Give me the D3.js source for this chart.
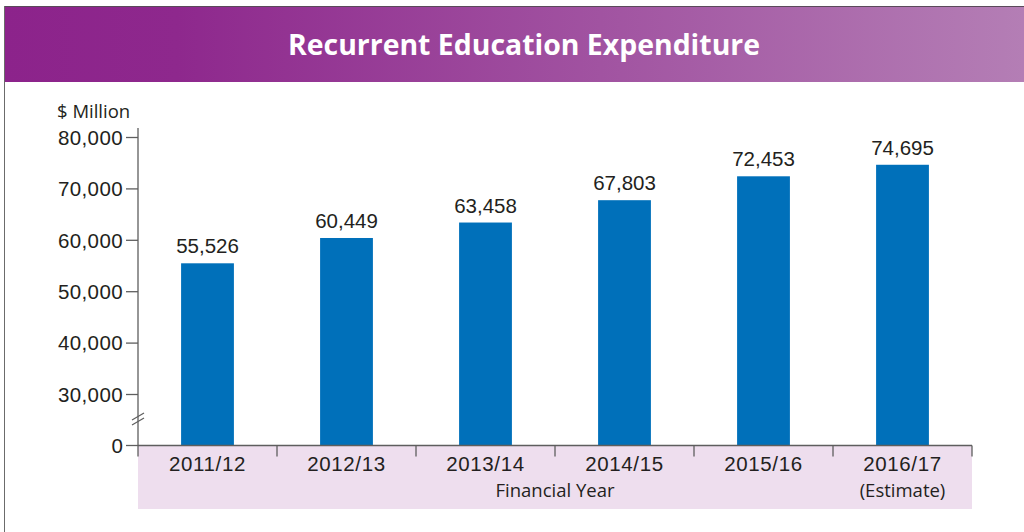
<!DOCTYPE html>
<html>
<head>
<meta charset="utf-8">
<script src="https://cdn.jsdelivr.net/npm/d3@7"></script>
<style>
  html, body { margin: 0; padding: 0; background: #fff; }
  svg { display: block; }
</style>
</head>
<body>
<svg id="chart" width="1024" height="532"></svg>
<script>
// chart data
var years = ["2011/12", "2012/13", "2013/14", "2014/15", "2015/16", "2016/17"];
var yearNotes = ["", "", "", "", "", "(Estimate)"];
var spending = [55526, 60449, 63458, 67803, 72453, 74695];
var yTicks = [30000, 40000, 50000, 60000, 70000, 80000];

var title = "Recurrent Education Expenditure",
    yTitle = "$ Million",
    xTitle = "Financial Year";

var svg = d3.select("#chart");

var left = 138, right = 972,
    base = 445.5, bandBottom = 509;

// header band with gradient
var defs = svg.append("defs");
var grad = defs.append("linearGradient")
  .attr("id", "hdr")
  .attr("x1", "0").attr("x2", "1").attr("y1", "0").attr("y2", "0");
grad.append("stop").attr("offset", "0").attr("stop-color", "#8c238b");
grad.append("stop").attr("offset", "0.17").attr("stop-color", "#8e288d");
grad.append("stop").attr("offset", "1").attr("stop-color", "#b47eb5");

svg.append("rect")
  .attr("x", 4).attr("y", 6)
  .attr("width", 1020).attr("height", 76)
  .attr("fill", "url(#hdr)");
svg.append("line")
  .attr("x1", 4).attr("x2", 1024).attr("y1", 6.5).attr("y2", 6.5)
  .attr("stroke", "#5a4a5a").attr("stroke-width", 1);
svg.append("line")
  .attr("x1", 4.5).attr("x2", 4.5).attr("y1", 6).attr("y2", 532)
  .attr("stroke", "#6b6b6b").attr("stroke-width", 1);

svg.append("text")
  .attr("x", 524).attr("y", 55)
  .attr("text-anchor", "middle")
  .attr("font-family", "'Open Sans', sans-serif")
  .attr("font-weight", "bold")
  .attr("font-size", "28px")
  .attr("textLength", 472)
  .attr("lengthAdjust", "spacingAndGlyphs")
  .attr("fill", "#fff")
  .text(title);

// scales
var x = d3.scaleBand()
  .domain(years)
  .range([left, right])
  .paddingInner(0.62)
  .paddingOuter(0.31);

var xBand = d3.scaleBand().domain(years).range([left, right]);

var y = d3.scaleLinear()
  .domain([30000, 80000])
  .range([394.5, 137.5]);

// pink band under the axis
svg.append("rect")
  .attr("x", left).attr("y", base)
  .attr("width", right - left).attr("height", bandBottom - base)
  .attr("fill", "#eedeee");

// bars
svg.selectAll("rect.bar")
  .data(spending)
  .enter()
  .append("rect")
  .attr("class", "bar")
  .attr("x", function(d, i) { return x(years[i]); })
  .attr("y", function(d) { return y(d); })
  .attr("width", x.bandwidth())
  .attr("height", function(d) { return base - y(d); })
  .attr("fill", "#0070ba");

svg.selectAll("text.val")
  .data(spending)
  .enter()
  .append("text")
  .attr("class", "val")
  .attr("x", function(d, i) { return x(years[i]) + x.bandwidth() / 2; })
  .attr("y", function(d) { return y(d) - 10; })
  .attr("text-anchor", "middle")
  .attr("font-family", "'Liberation Sans', Arial, sans-serif")
  .attr("font-size", "20.5px")
  .attr("fill", "#231f20")
  .text(d3.format(","));

// y axis
var axisColor = "#5e5e5e";
svg.append("line")
  .attr("x1", left).attr("x2", left)
  .attr("y1", 128).attr("y2", base)
  .attr("stroke", axisColor).attr("stroke-width", 1.3);

var yAxis = svg.append("g");
yAxis.selectAll("line")
  .data(yTicks)
  .enter()
  .append("line")
  .attr("x1", left - 12).attr("x2", left)
  .attr("y1", function(d) { return y(d); })
  .attr("y2", function(d) { return y(d); })
  .attr("stroke", axisColor).attr("stroke-width", 1.3);
yAxis.selectAll("text")
  .data(yTicks)
  .enter()
  .append("text")
  .attr("x", left - 15)
  .attr("y", function(d) { return y(d); })
  .attr("dy", "0.36em")
  .attr("text-anchor", "end")
  .attr("font-family", "'Liberation Sans', Arial, sans-serif")
  .attr("font-size", "20.5px")
  .attr("letter-spacing", "0.4px")
  .attr("fill", "#231f20")
  .text(d3.format(","));

// zero tick below the break
svg.append("line")
  .attr("x1", left - 12).attr("x2", left)
  .attr("y1", base).attr("y2", base)
  .attr("stroke", axisColor).attr("stroke-width", 1.3);
svg.append("text")
  .attr("x", left - 15).attr("y", base)
  .attr("dy", "0.36em")
  .attr("text-anchor", "end")
  .attr("font-family", "'Liberation Sans', Arial, sans-serif")
  .attr("font-size", "20.5px")
  .attr("fill", "#231f20")
  .text("0");

// axis break marks
[0, 5].forEach(function(off) {
  svg.append("line")
    .attr("x1", left - 6).attr("x2", left + 6)
    .attr("y1", 420 + off).attr("y2", 413 + off)
    .attr("stroke", axisColor).attr("stroke-width", 1.2);
});

svg.append("text")
  .attr("x", 57).attr("y", 118)
  .attr("font-family", "'Open Sans', sans-serif")
  .attr("font-size", "18.5px")
  .attr("fill", "#231f20")
  .text(yTitle);

// x axis
svg.append("line")
  .attr("x1", left).attr("x2", right)
  .attr("y1", base).attr("y2", base)
  .attr("stroke", axisColor).attr("stroke-width", 1.5);

var xTicks = years.map(function(d) { return xBand(d); }).concat([right]);
svg.selectAll("line.xt")
  .data(xTicks)
  .enter()
  .append("line")
  .attr("class", "xt")
  .attr("x1", function(d) { return d; })
  .attr("x2", function(d) { return d; })
  .attr("y1", base).attr("y2", base + 11)
  .attr("stroke", axisColor).attr("stroke-width", 1.3);

svg.selectAll("text.cat")
  .data(years)
  .enter()
  .append("text")
  .attr("class", "cat")
  .attr("x", function(d) { return xBand(d) + xBand.bandwidth() / 2; })
  .attr("y", 471)
  .attr("text-anchor", "middle")
  .attr("font-family", "'Liberation Sans', Arial, sans-serif")
  .attr("font-size", "20.5px")
  .attr("letter-spacing", "0.6px")
  .attr("fill", "#231f20")
  .text(function(d) { return d; });

svg.selectAll("text.note")
  .data(yearNotes)
  .enter()
  .append("text")
  .attr("class", "note")
  .attr("x", function(d, i) { return xBand(years[i]) + xBand.bandwidth() / 2; })
  .attr("y", 497)
  .attr("text-anchor", "middle")
  .attr("font-family", "'Open Sans', sans-serif")
  .attr("font-size", "18.5px")
  .attr("fill", "#231f20")
  .text(function(d) { return d; });

svg.append("text")
  .attr("x", (left + right) / 2).attr("y", 497)
  .attr("text-anchor", "middle")
  .attr("font-family", "'Open Sans', sans-serif")
  .attr("font-size", "18.5px")
  .attr("fill", "#231f20")
  .text(xTitle);
</script>
</body>
</html>
